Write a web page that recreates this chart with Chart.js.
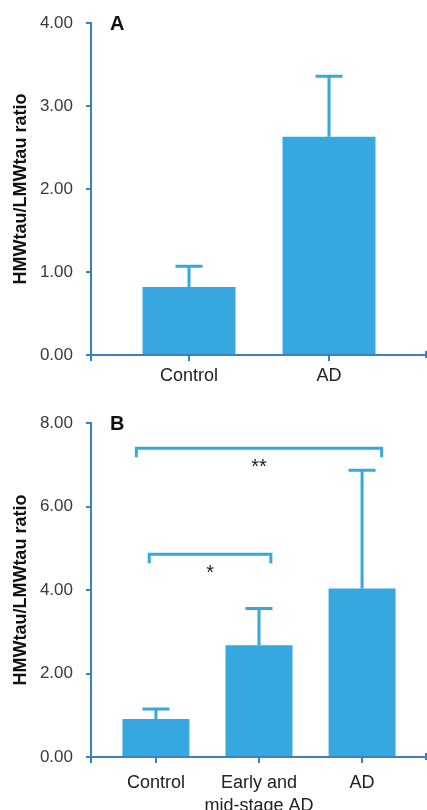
<!DOCTYPE html>
<html><head><meta charset="utf-8">
<script src="https://cdn.jsdelivr.net/npm/chart.js@4.4.0/dist/chart.umd.min.js"></script>
<style>
html,body{margin:0;padding:0;background:#fff;width:427px;height:810px;overflow:hidden}
.box{position:absolute;left:0;width:427px}
#a{top:0;height:400px}
#b{top:400px;height:410px}
</style></head><body>
<div class="box" id="a"><canvas id="ca"></canvas></div>
<div class="box" id="b"><canvas id="cb"></canvas></div>
<script>
// ---- Panel A data ----
const categoriesA = ['Control', 'AD'];
const valuesA = [0.82, 2.63];
const errorsA = [0.25, 0.73];
const yTicksA = [0, 1, 2, 3, 4];

// ---- Panel B data ----
const categoriesB = ['Control', ['Early and', 'mid-stage AD'], 'AD'];
const valuesB = [0.91, 2.68, 4.04];
const errorsB = [0.24, 0.88, 2.83];
const yTicksB = [0, 2, 4, 6, 8];
// significance brackets (data space)
const bracketStartB = [-0.19, -0.065];
const bracketEndB = [2.19, 1.115];
const bracketLevelB = [7.40, 4.86];
const bracketLabelB = ['**', '*'];

const yTitle = 'HMWtau/LMWtau ratio';
const BAR = '#36a8df';
const AXIS = '#3d80c2';

const decorPlugin = {
  id: 'decor',
  afterDatasetsDraw(chart, args, o) {
    const ctx = chart.ctx;
    const xs = chart.scales.x, ys = chart.scales.y;
    const ca = chart.chartArea;
    ctx.save();
    // error bars
    const meta = chart.getDatasetMeta(0);
    const ds = chart.data.datasets[0];
    ctx.strokeStyle = BAR;
    ctx.lineWidth = 3;
    meta.data.forEach((bar, i) => {
      const top = ys.getPixelForValue(ds.data[i].y + o.errors[i]);
      ctx.beginPath();
      ctx.moveTo(bar.x, bar.y);
      ctx.lineTo(bar.x, top);
      ctx.moveTo(bar.x - 13.5, top);
      ctx.lineTo(bar.x + 13.5, top);
      ctx.stroke();
    });
    // brackets
    (o.brackets || []).forEach(b => {
      const x1 = xs.getPixelForValue(b.from), x2 = xs.getPixelForValue(b.to);
      const y = ys.getPixelForValue(b.level);
      ctx.strokeStyle = BAR;
      ctx.lineWidth = 3;
      ctx.beginPath();
      ctx.moveTo(x1, y + 9);
      ctx.lineTo(x1, y);
      ctx.lineTo(x2, y);
      ctx.lineTo(x2, y + 9);
      ctx.stroke();
      ctx.fillStyle = '#222';
      ctx.font = '20px "Liberation Sans"';
      ctx.textAlign = 'center';
      ctx.textBaseline = 'middle';
      ctx.fillText(b.label, (x1 + x2) / 2, y + 19);
    });
    // axis end marks
    ctx.strokeStyle = AXIS;
    ctx.lineWidth = 2;
    ctx.beginPath();
    ctx.moveTo(ca.left, ca.bottom);
    ctx.lineTo(ca.left, ca.bottom + 6);
    ctx.moveTo(ca.right - 1, ca.bottom - 4);
    ctx.lineTo(ca.right - 1, ca.bottom + 3);
    ctx.stroke();
    // panel label
    ctx.fillStyle = '#111';
    ctx.font = 'bold 20px "Liberation Sans"';
    ctx.textAlign = 'left';
    ctx.textBaseline = 'alphabetic';
    ctx.fillText(o.panel, ca.left + 19, ca.top + 7);
    ctx.restore();
  }
};

function makeChart(id, cats, vals, errs, yTicks, o) {
  return new Chart(document.getElementById(id), {
    type: 'bar',
    data: {
      datasets: [{
        data: vals.map((v, i) => ({ x: i, y: v })),
        backgroundColor: BAR,
        borderWidth: 0,
        barPercentage: o.barPct,
        categoryPercentage: 1
      }]
    },
    plugins: [decorPlugin],
    options: {
      responsive: true,
      maintainAspectRatio: false,
      animation: false,
      devicePixelRatio: 1,
      layout: { padding: { top: o.top, left: 0, right: 0, bottom: 0 } },
      plugins: {
        legend: { display: false },
        tooltip: { enabled: false },
        decor: { errors: errs, brackets: o.brackets, panel: o.panel }
      },
      scales: {
        x: {
          type: 'linear',
          min: o.xMin, max: o.xMax,
          offset: false,
          afterBuildTicks: s => { s.ticks = cats.map((c, i) => ({ value: i })); },
          afterFit: s => { s.height = o.xH; },
          grid: { drawOnChartArea: false, drawTicks: true, tickLength: 6, color: AXIS, lineWidth: 2, offset: false },
          border: { display: true, color: AXIS, width: 2 },
          ticks: {
            callback: v => cats[Math.round(v)],
            color: '#222',
            font: { family: '"Liberation Sans"', size: 18, lineHeight: 1.3 },
            padding: o.xPad,
            maxRotation: 0, minRotation: 0, autoSkip: false
          }
        },
        y: {
          min: yTicks[0], max: yTicks[yTicks.length - 1],
          afterBuildTicks: s => { s.ticks = yTicks.map(v => ({ value: v })); },
          afterFit: s => { s.width = 91; },
          grid: { drawOnChartArea: false, drawTicks: true, tickLength: 5, color: AXIS, lineWidth: 2 },
          border: { display: true, color: AXIS, width: 2 },
          ticks: {
            callback: v => Number(v).toFixed(2),
            color: '#3a3a3a',
            font: { family: '"Liberation Sans"', size: 17 },
            padding: 13
          },
          title: {
            display: true,
            text: yTitle,
            color: '#111',
            font: { family: '"Liberation Sans"', size: 18, weight: 'bold' },
            padding: { top: 10, bottom: 0 }
          }
        }
      }
    }
  });
}

makeChart('ca', categoriesA, valuesA, errorsA, yTicksA, {
  top: 21, xH: 45, xPad: 3, xMin: -0.7, xMax: 1.7, barPct: 0.664, panel: 'A', brackets: []
});
makeChart('cb', categoriesB, valuesB, errorsB, yTicksB, {
  top: 23, xH: 53, xPad: 8, xMin: -0.63, xMax: 2.63, barPct: 0.65, panel: 'B',
  brackets: bracketLevelB.map((lv, i) => ({ from: bracketStartB[i], to: bracketEndB[i], level: lv, label: bracketLabelB[i] }))
});
</script>
</body></html>
